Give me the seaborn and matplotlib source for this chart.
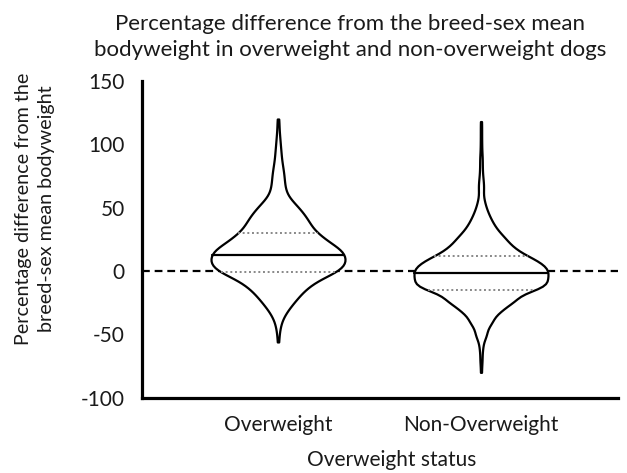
import numpy as np
import pandas as pd
import matplotlib
matplotlib.use("Agg")
import matplotlib.pyplot as plt
import seaborn as sns

# ---- data (value bins and counts per bin) ----
categories = ["Overweight", "Non-Overweight"]

ow_values = [-56, -50, -45, -40, -35, -30, -25, -20, -15, -10, -5, -0.5, 4, 8.5,
             13, 17, 21, 25.5, 30, 35, 40, 45, 50, 55, 60, 65, 70, 75, 80, 85,
             90, 95, 100, 105, 110, 115, 120]
ow_counts = [1, 1, 2, 3, 6, 10, 15, 20, 25, 33, 40, 52, 58, 59,
             55, 48, 44, 40, 35, 32, 29, 25, 20, 14, 8, 7, 6, 6, 5, 4,
             3, 3, 2, 2, 1, 1, 1]

now_values = [-80, -70, -60, -50, -40, -31, -23, -15, -11, -7, -1.8, 3, 7.5, 12,
              18, 24.5, 30, 35, 40, 45, 50, 56, 65, 72, 80, 88, 95, 102, 110, 118]
now_counts = [1, 2, 3, 10, 19, 31, 53, 58, 46, 58, 66, 58, 48, 44,
              40, 30, 18, 13, 10, 7, 5, 4, 4, 3, 2, 2, 1, 1, 1, 1]

y_ticks = [-100, -50, 0, 50, 100, 150]

title_text = ("Percentage difference from the breed-sex mean\n"
              "bodyweight in overweight and non-overweight dogs")
ylabel_text = "Percentage difference from the\nbreed-sex mean bodyweight"
xlabel_text = "Overweight status"

# ---- build long-form table ----
df = pd.DataFrame({
    "status": [categories[0]] * sum(ow_counts) + [categories[1]] * sum(now_counts),
    "value": np.concatenate([np.repeat(ow_values, ow_counts),
                             np.repeat(now_values, now_counts)]),
})

sns.set_style("white")
plt.rcParams["font.family"] = ["Lato", "DejaVu Sans"]
plt.rcParams["axes.unicode_minus"] = False
txt = "#1a1a1a"

fig = plt.figure(figsize=(6.27, 4.73), dpi=100)
ax = fig.add_axes([142 / 627, 1 - 397.7 / 473, (618 - 142) / 627, (397.7 - 81) / 473])

ax.axhline(0, color="black", lw=1.6, ls=(0, (3.5, 2.2)), zorder=1)

n_lines_before = len(ax.lines)
sns.violinplot(data=df, x="status", y="value", order=categories, ax=ax,
               inner="quart", cut=0, width=0.66, density_norm="width",
               bw_adjust=0.7, fill=True, color="white", saturation=1,
               linecolor="black", linewidth=1.6, zorder=2)

# styling of the quartile lines: quartiles dotted grey, median solid black
new_lines = ax.lines[n_lines_before:]
for i, ln in enumerate(new_lines):
    if i % 3 == 1:
        ln.set_linestyle("-")
        ln.set_color("black")
        ln.set_linewidth(1.6)
    else:
        ln.set_linestyle((0, (1, 1.4)))
        ln.set_color("#888888")
        ln.set_linewidth(1.4)
    ln.set_zorder(3)

ax.set_xlim(-0.67, 1.675)
ax.set_ylim(-100, 150)
ax.set_yticks(y_ticks)
ax.set_xlabel("")
ax.set_ylabel("")

for s in ["top", "right"]:
    ax.spines[s].set_visible(False)
for s in ["left", "bottom"]:
    ax.spines[s].set_linewidth(2.3)
    ax.spines[s].set_color("black")
ax.tick_params(axis="both", which="major", direction="out", length=8.5,
               width=2.2, color="black", labelsize=15, labelcolor=txt, pad=4)

fig.text(350 / 627, 1 - 37 / 473, title_text, ha="center", va="center",
         fontsize=16, color=txt, linespacing=1.4)
fig.text(35 / 627, 1 - 209 / 473, ylabel_text, ha="center", va="center",
         rotation=90, fontsize=14.2, color=txt, linespacing=1.4)
fig.text(392 / 627, 1 - 460 / 473, xlabel_text, ha="center", va="center",
         fontsize=15, color=txt)

fig.savefig("out.png", dpi=100)
